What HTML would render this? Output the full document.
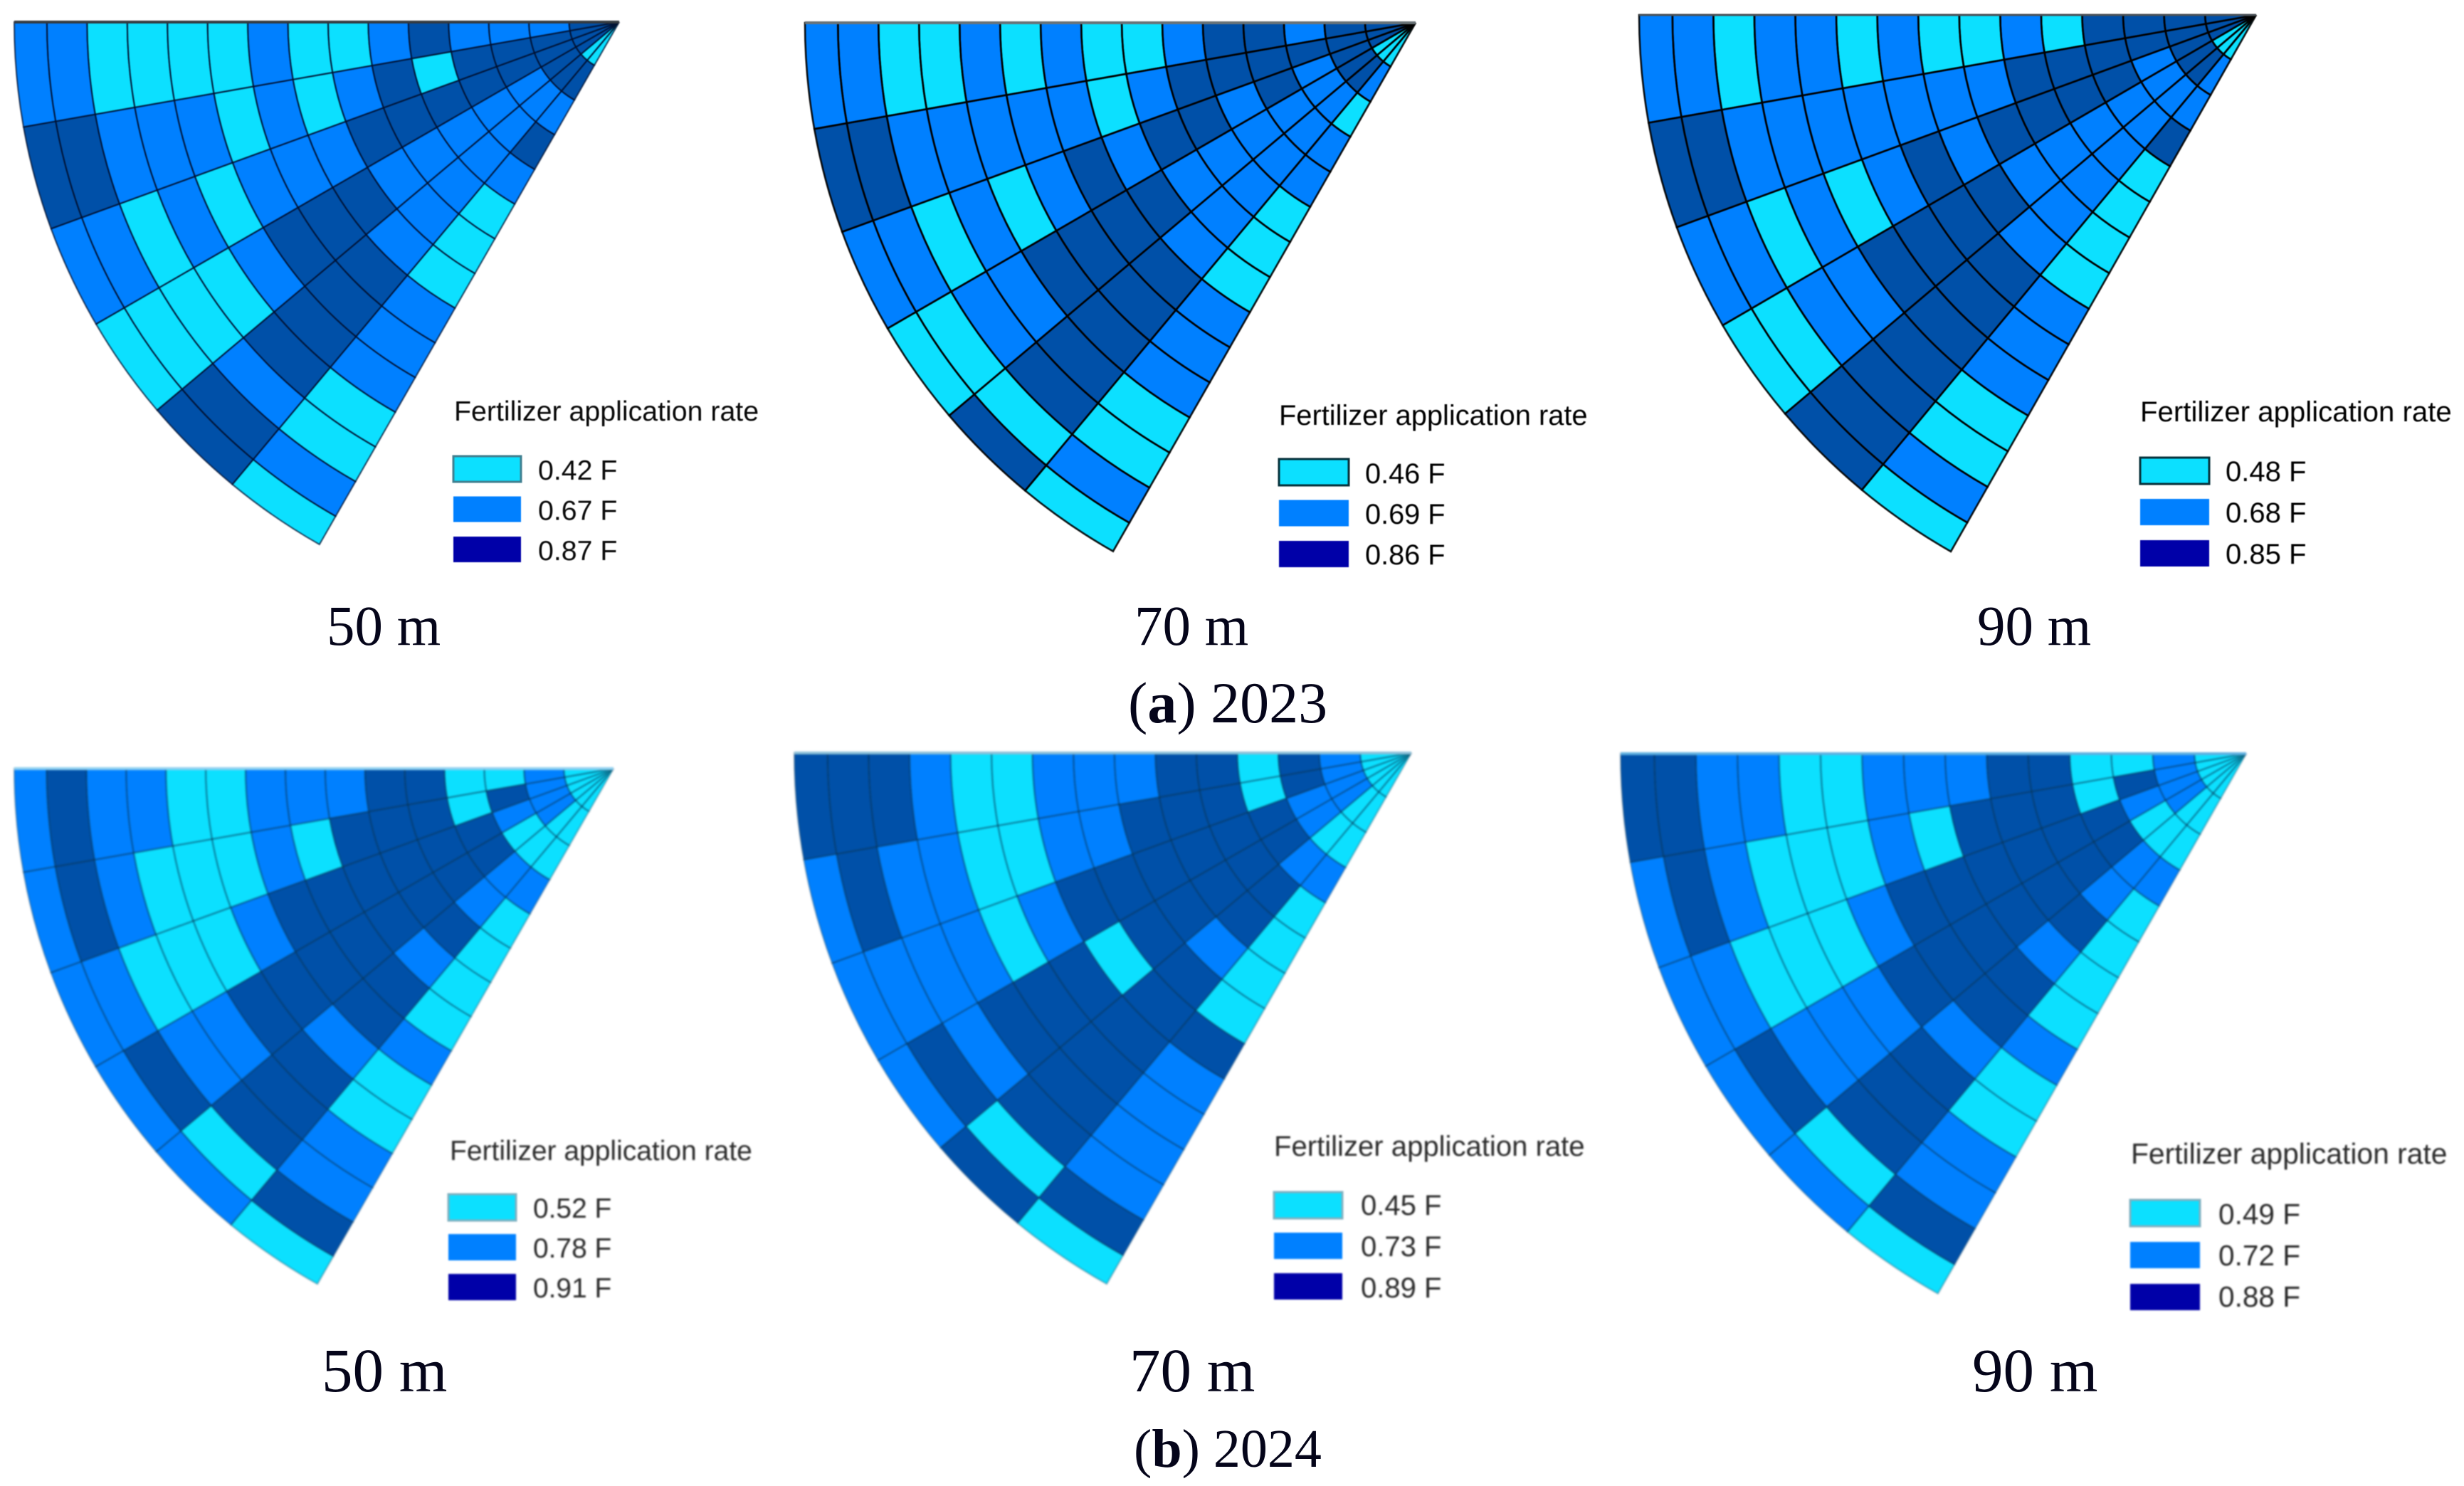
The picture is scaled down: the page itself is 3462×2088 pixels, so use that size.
<!DOCTYPE html>
<html lang="en">
<head>
<meta charset="utf-8">
<title>Fertilizer application rate by spray height, 2023 and 2024</title>
<style>
html,body{margin:0;padding:0;background:#fff;}
svg{display:block;}
.cap{font-family:"Liberation Serif",serif;fill:#05051a;}
.leg{font-family:"Liberation Sans",sans-serif;}
</style>
</head>
<body>
<svg id="figure" xmlns="http://www.w3.org/2000/svg" width="3462" height="2088" viewBox="0 0 3462 2088">
  <rect x="0" y="0" width="3462" height="2088" fill="#ffffff"/>
  <g id="panels"></g>
  <text class="cap" x="459" y="906" font-size="79">50 m</text>
  <text class="cap" x="1594" y="906" font-size="79">70 m</text>
  <text class="cap" x="2778" y="906" font-size="79">90 m</text>
  <text class="cap" x="1585" y="1015" font-size="82">(<tspan font-weight="bold">a</tspan>) 2023</text>
  <text class="cap" x="452" y="1955" font-size="87">50 m</text>
  <text class="cap" x="1587" y="1955" font-size="87">70 m</text>
  <text class="cap" x="2771" y="1955" font-size="87">90 m</text>
  <text class="cap" x="1593" y="2061" font-size="76">(<tspan font-weight="bold">b</tspan>) 2024</text>
</svg>
<script>
// Fertilizer classes: each cell holds a class index (0 = low, 1 = mid, 2 = high) into that panel's rate array.
// Rows run from the top sector downward, columns from the outer ring inward.
const rates2023m50 = [0.42, 0.67, 0.87];
const rates2023m70 = [0.46, 0.69, 0.86];
const rates2023m90 = [0.48, 0.68, 0.85];
const rates2024m50 = [0.52, 0.78, 0.91];
const rates2024m70 = [0.45, 0.73, 0.89];
const rates2024m90 = [0.49, 0.72, 0.88];

const cells2023m50 = [
  [1,1,0,0,0,0,1,0,0,1,2,1,1,1,2],
  [2,2,1,1,1,0,1,0,1,2,0,2,2,2,2],
  [1,1,0,1,0,1,1,1,2,2,2,2,2,2,2],
  [0,0,0,0,1,2,2,2,1,1,1,1,1,2,2],
  [2,2,1,2,2,2,2,1,1,1,1,1,1,2,0],
  [0,1,0,0,1,1,1,0,0,0,1,2,1,2,0]
];
const cells2023m70 = [
  [1,1,0,0,1,0,1,0,0,1,2,2,1,2,2],
  [2,2,1,1,1,1,1,0,1,2,2,2,2,2,2],
  [1,1,0,1,0,1,2,1,2,2,1,2,1,2,2],
  [0,0,1,1,2,2,2,2,1,1,1,1,1,2,0],
  [2,0,2,2,2,2,2,1,1,1,1,1,1,2,0],
  [0,1,0,0,1,1,1,0,0,0,1,1,0,1,0]
];
const cells2023m90 = [
  [1,1,0,1,1,0,1,0,0,1,0,2,2,2,2],
  [2,2,1,1,1,1,1,1,1,2,2,2,2,2,2],
  [1,1,0,1,0,1,2,1,2,2,2,2,1,2,2],
  [0,0,1,1,2,2,2,2,1,1,1,1,1,2,0],
  [2,2,2,2,2,2,2,1,1,1,1,1,1,2,0],
  [0,1,0,0,1,1,1,0,0,0,0,2,1,1,0]
];
const cells2024m50 = [
  [1,2,1,1,0,0,1,1,1,2,2,0,0,1,0],
  [1,2,1,0,0,0,1,0,2,2,2,0,2,1,0],
  [1,1,0,0,0,1,2,2,2,2,2,2,1,1,0],
  [1,2,1,1,2,2,2,2,2,2,2,2,0,1,0],
  [1,0,2,2,2,1,2,2,1,2,1,1,0,0,0],
  [0,2,1,1,0,0,1,0,0,0,0,1,0,0,0]
];
const cells2024m70 = [
  [2,2,2,1,0,0,1,1,1,2,2,0,2,1,0],
  [1,2,1,1,0,0,1,1,2,2,2,0,2,1,0],
  [1,1,1,1,0,1,2,2,2,2,2,2,1,1,0],
  [1,2,1,2,2,2,0,2,2,2,2,2,1,1,0],
  [2,0,2,2,2,2,2,2,1,2,2,1,0,0,0],
  [0,2,1,1,1,1,2,0,0,0,0,1,0,0,0]
];
const cells2024m90 = [
  [2,2,1,1,0,0,1,1,1,2,2,0,0,1,0],
  [1,2,1,0,0,0,1,0,2,2,2,0,2,1,0],
  [1,1,0,0,0,1,2,2,2,2,2,2,1,1,0],
  [1,2,1,1,1,2,2,2,2,2,2,2,0,1,0],
  [1,0,2,2,2,1,2,2,1,2,1,1,0,0,0],
  [0,2,1,1,0,0,1,0,0,0,0,1,0,0,0]
];

const legendTitle = 'Fertilizer application rate';
const cellColors = ['#0ce0ff', '#0080ff', '#0050a8'];
const swatchColors = ['#0ce0ff', '#0080ff', '#0000a8'];

const SVG_NS = 'http://www.w3.org/2000/svg';
const panelsRoot = document.getElementById('panels');

// Radial axis: ring edge index (0 = outer rim, 15 = apex) to fraction of the radius.
function ringFraction(edge) {
  if (edge <= 0) return 1;
  if (edge >= 15) return 0;
  return 0.946 - (edge - 1) * 0.0664;
}
// Angular axis: sector edge index to radians below the horizontal top edge.
function sectorAngle(p, edge) {
  return edge * p.sectorDegrees * Math.PI / 180;
}

function cellPath(p, ring, sector) {
  const rOut = ringFraction(ring) * p.radiusX;
  const rIn = ringFraction(ring + 1) * p.radiusX;
  const a0 = sectorAngle(p, sector);
  const a1 = sectorAngle(p, sector + 1);
  const k = p.radiusY / p.radiusX;
  const pt = (r, a) => (p.apexX - r * Math.cos(a)).toFixed(2) + ' ' + (p.apexY + r * k * Math.sin(a)).toFixed(2);
  return 'M' + pt(rOut, a0) +
    ' A' + rOut.toFixed(2) + ' ' + (rOut * k).toFixed(2) + ' 0 0 0 ' + pt(rOut, a1) +
    ' L' + pt(rIn, a1) +
    (rIn > 0 ? ' A' + rIn.toFixed(2) + ' ' + (rIn * k).toFixed(2) + ' 0 0 1 ' + pt(rIn, a0) : '') +
    ' Z';
}

function drawPanel(p) {
  const group = document.createElementNS(SVG_NS, 'g');
  
  
  group.style.filter = 'blur(' + p.blur + 'px)';
  p.cells.forEach(function (row, sector) {
    row.forEach(function (level, ring) {
      const cell = document.createElementNS(SVG_NS, 'path');
      
      
      cell.setAttribute('d', cellPath(p, ring, sector));
      cell.setAttribute('fill', cellColors[level]);
      group.appendChild(cell);
    });
  });
  p.cells.forEach(function (row, sector) {
    row.forEach(function (level, ring) {
      const edge = document.createElementNS(SVG_NS, 'path');
      
      
      edge.setAttribute('d', cellPath(p, ring, sector));
      edge.setAttribute('fill', 'none');
      edge.setAttribute('stroke', p.stroke);
      edge.setAttribute('stroke-width', p.strokeWidth);
      edge.setAttribute('stroke-opacity', p.strokeOpacity);
      group.appendChild(edge);
    });
  });
  const topEdge = document.createElementNS(SVG_NS, 'line');
  
  
  topEdge.setAttribute('x1', p.apexX - p.radiusX);
  topEdge.setAttribute('y1', p.apexY);
  topEdge.setAttribute('x2', p.apexX);
  topEdge.setAttribute('y2', p.apexY);
  topEdge.setAttribute('stroke', p.topEdge);
  topEdge.setAttribute('stroke-width', p.topEdgeWidth);
  group.appendChild(topEdge);
  panelsRoot.appendChild(group);

  const legend = document.createElementNS(SVG_NS, 'g');
  
  
  legend.style.filter = 'blur(' + p.legendBlur + 'px)';
  const title = document.createElementNS(SVG_NS, 'text');
  
  
  title.setAttribute('class', 'leg');
  title.setAttribute('x', p.titleX);
  title.setAttribute('y', p.titleY);
  title.setAttribute('font-size', p.titleSize);
  title.setAttribute('fill', p.textColor);
  title.textContent = legendTitle;
  legend.appendChild(title);
  p.rates.forEach(function (rate, i) {
    const swatch = document.createElementNS(SVG_NS, 'rect');
    
    
    swatch.setAttribute('x', p.swatchX);
    swatch.setAttribute('y', p.swatchY + i * p.swatchStep);
    swatch.setAttribute('width', p.swatchW);
    swatch.setAttribute('height', p.swatchH);
    swatch.setAttribute('fill', swatchColors[i]);
    if (i === 0 && p.swatchStroke) {
      swatch.setAttribute('stroke', p.swatchStroke);
      swatch.setAttribute('stroke-width', 3);
    }
    legend.appendChild(swatch);
    const label = document.createElementNS(SVG_NS, 'text');
    
    
    label.setAttribute('class', 'leg');
    label.setAttribute('x', p.labelX);
    label.setAttribute('y', p.labelY + i * p.labelStep);
    label.setAttribute('font-size', p.labelSize);
    label.setAttribute('fill', p.textColor);
    label.textContent = rate.toFixed(2) + ' F';
    legend.appendChild(label);
  });
  panelsRoot.appendChild(legend);
}

drawPanel({ key: '2023-50m', cells: cells2023m50, rates: rates2023m50,
  apexX: 870, apexY: 31, radiusX: 850, radiusY: 845, sectorDegrees: 10.05, blur: 0.8, legendBlur: 0.6,
  stroke: '#001030', strokeWidth: 2, strokeOpacity: 0.75, topEdge: '#333a40', topEdgeWidth: 4, textColor: '#0a0a0a',
  titleX: 638, titleY: 591, titleSize: 39.3, swatchX: 637, swatchY: 641, swatchW: 95, swatchH: 36, swatchStep: 56.5,
  swatchStroke: '#3f7f90', labelX: 756, labelY: 674, labelStep: 56.5, labelSize: 39.3 });
drawPanel({ key: '2023-70m', cells: cells2023m70, rates: rates2023m70,
  apexX: 1989, apexY: 32, radiusX: 858, radiusY: 855, sectorDegrees: 10.05, blur: 0.4, legendBlur: 0.4,
  stroke: '#000000', strokeWidth: 2.6, strokeOpacity: 0.9, topEdge: '#6a7478', topEdgeWidth: 4, textColor: '#000000',
  titleX: 1797, titleY: 597, titleSize: 39.8, swatchX: 1797, swatchY: 645, swatchW: 98, swatchH: 37, swatchStep: 57.5,
  swatchStroke: '#06303a', labelX: 1918, labelY: 679, labelStep: 57, labelSize: 39.7 });
drawPanel({ key: '2023-90m', cells: cells2023m90, rates: rates2023m90,
  apexX: 3170, apexY: 21, radiusX: 867, radiusY: 867.6, sectorDegrees: 10.057, blur: 0.4, legendBlur: 0.4,
  stroke: '#000000', strokeWidth: 2.6, strokeOpacity: 0.9, topEdge: '#4a5258', topEdgeWidth: 3, textColor: '#000000',
  titleX: 3007, titleY: 592, titleSize: 40.2, swatchX: 3007, swatchY: 643, swatchW: 97, swatchH: 37, swatchStep: 58,
  swatchStroke: '#06303a', labelX: 3127, labelY: 676, labelStep: 58, labelSize: 40 });
drawPanel({ key: '2024-50m', cells: cells2024m50, rates: rates2024m50,
  apexX: 862, apexY: 1080, radiusX: 842, radiusY: 833, sectorDegrees: 10.065, blur: 1.4, legendBlur: 1,
  stroke: '#00304f', strokeWidth: 2.2, strokeOpacity: 0.32, topEdge: '#8fd0f0', topEdgeWidth: 4, textColor: '#2a2a2a',
  titleX: 632, titleY: 1630, titleSize: 39, swatchX: 630, swatchY: 1678, swatchW: 95, swatchH: 37, swatchStep: 56,
  swatchStroke: '#7fb0c0', labelX: 749, labelY: 1711, labelStep: 56, labelSize: 38.9 });
drawPanel({ key: '2024-70m', cells: cells2024m70, rates: rates2024m70,
  apexX: 1983, apexY: 1058, radiusX: 867, radiusY: 858, sectorDegrees: 10.07, blur: 1.4, legendBlur: 1,
  stroke: '#00304f', strokeWidth: 2.2, strokeOpacity: 0.32, topEdge: '#8cc0d8', topEdgeWidth: 4, textColor: '#2a2a2a',
  titleX: 1790, titleY: 1624, titleSize: 40.1, swatchX: 1790, swatchY: 1675, swatchW: 96, swatchH: 37, swatchStep: 57,
  swatchStroke: '#7fb0c0', labelX: 1912, labelY: 1707, labelStep: 58, labelSize: 40 });
drawPanel({ key: '2024-90m', cells: cells2024m90, rates: rates2024m90,
  apexX: 3156, apexY: 1059, radiusX: 879, radiusY: 872, sectorDegrees: 10.08, blur: 1.4, legendBlur: 1,
  stroke: '#00304f', strokeWidth: 2.2, strokeOpacity: 0.32, topEdge: '#5fb0e0', topEdgeWidth: 4, textColor: '#2a2a2a',
  titleX: 2994, titleY: 1635, titleSize: 40.8, swatchX: 2993, swatchY: 1686, swatchW: 98, swatchH: 37, swatchStep: 59,
  swatchStroke: '#7fb0c0', labelX: 3117, labelY: 1720, labelStep: 58, labelSize: 40.6 });
</script>
</body>
</html>
